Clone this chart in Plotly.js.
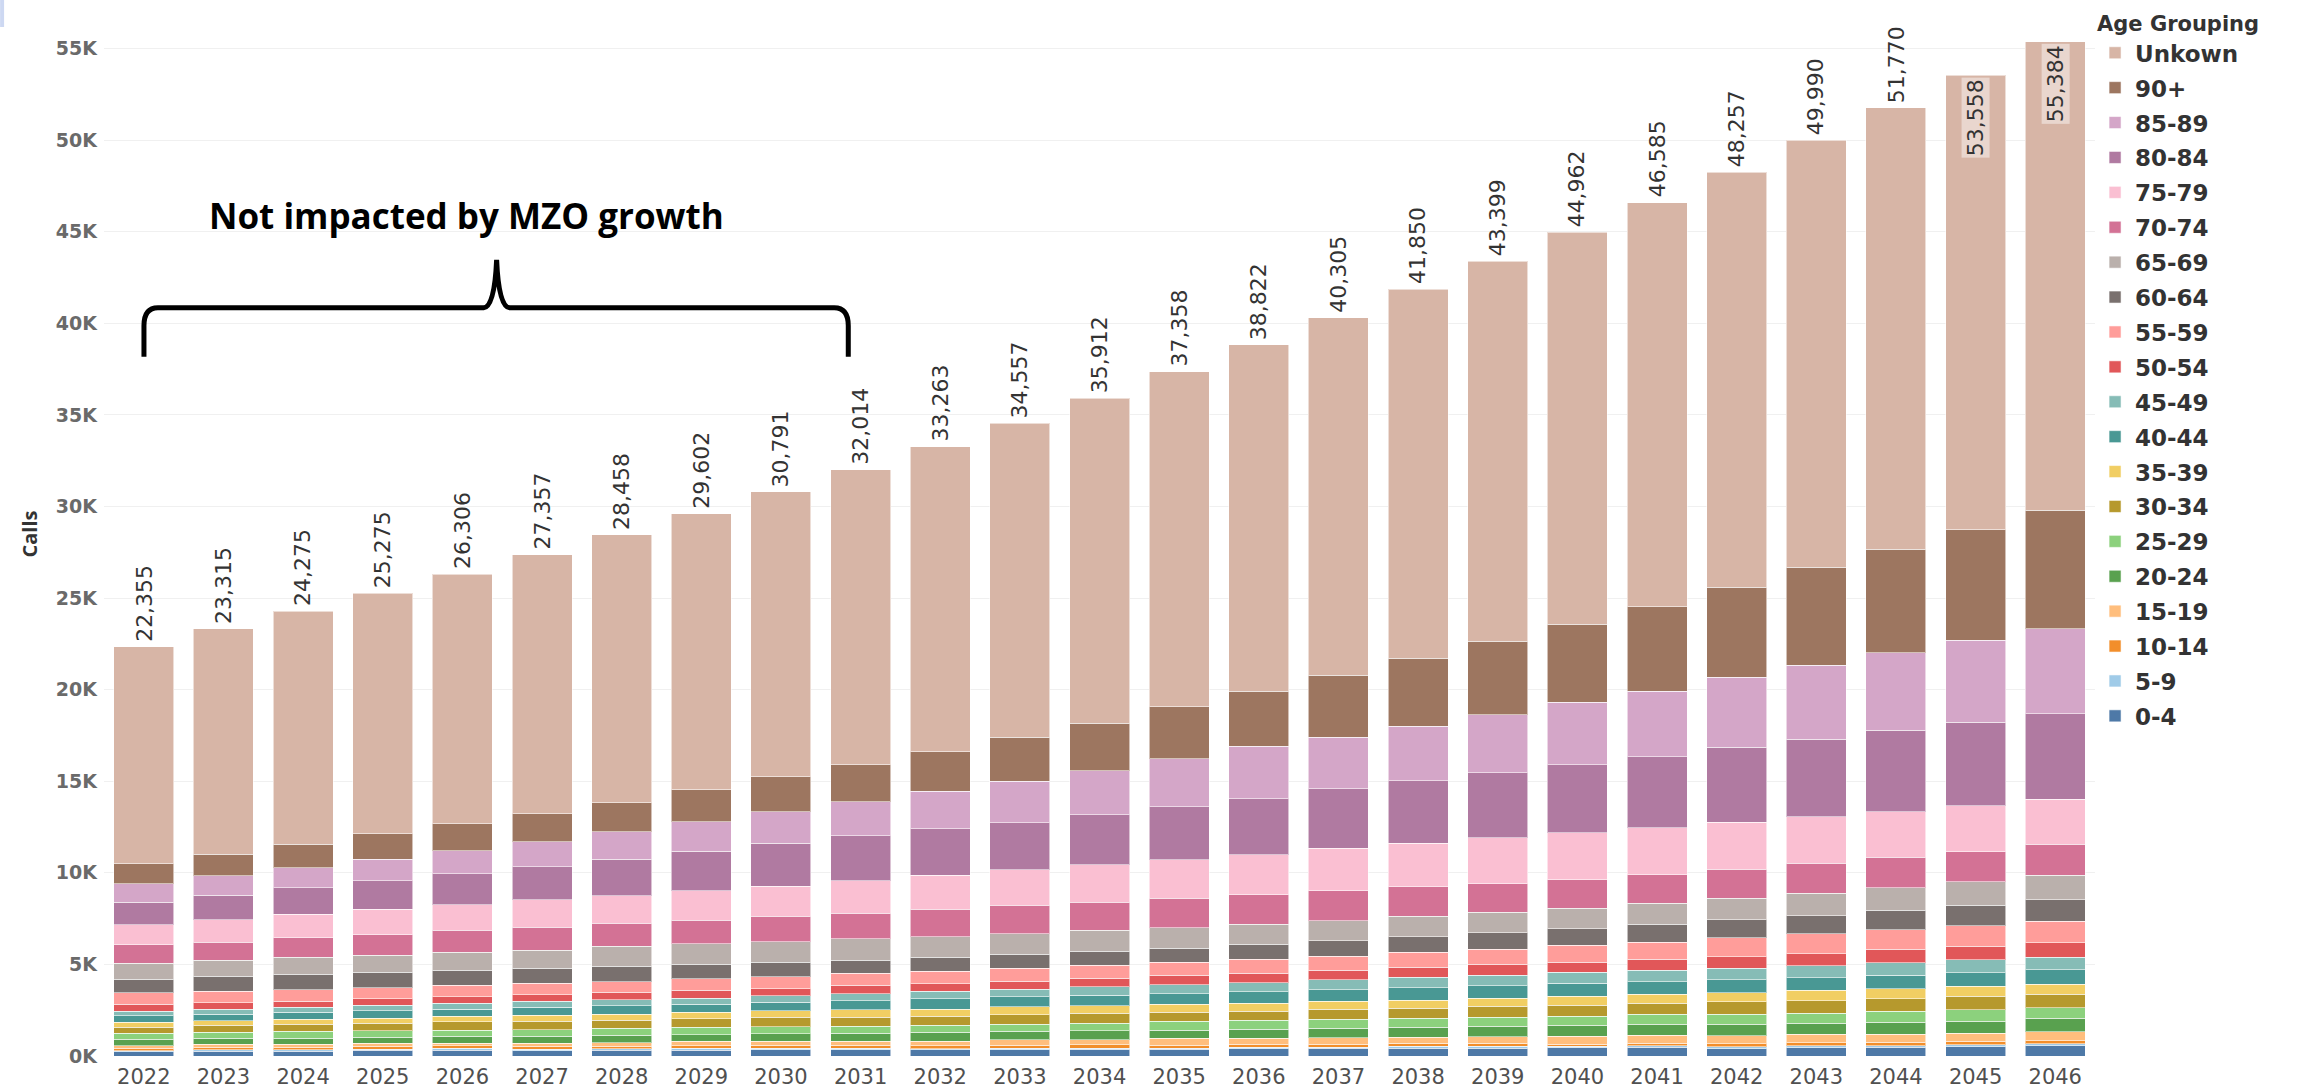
<!DOCTYPE html>
<html>
<head>
<meta charset="utf-8">
<script src="https://cdn.plot.ly/plotly-3.0.1.min.js"></script>
<style>
  html, body { margin: 0; padding: 0; background: #ffffff; }
  #chart { width: 2301px; height: 1092px; }
</style>
</head>
<body>
<div id="chart"></div>
<script>
// ---------------- DATA ----------------
const years = ['2022','2023','2024','2025','2026','2027','2028','2029','2030','2031','2032','2033','2034','2035','2036','2037','2038','2039','2040','2041','2042','2043','2044','2045','2046'];

const totals = [22355,23315,24275,25275,26306,27357,28458,29602,30791,32014,33263,34557,35912,37358,38822,40305,41850,43399,44962,46585,48257,49990,51770,53558,55384];

const ageGroups = ['0-4','5-9','10-14','15-19','20-24','25-29','30-34','35-39','40-44','45-49','50-54','55-59','60-64','65-69','70-74','75-79','80-84','85-89','90+','Unkown'];

const age0_4   = [236,255,255,309,327,291,309,327,345,345,345,345,364,364,400,418,436,436,455,491,407,447,468,508,569];
const age5_9   = [55,91,91,73,91,91,91,91,91,91,55,91,73,73,73,73,91,91,73,73,102,102,102,102,102];
const age10_14 = [127,127,127,145,145,145,127,145,164,145,164,145,164,145,164,164,182,182,127,145,163,183,183,183,163];
const age15_19 = [145,164,182,164,145,182,200,236,218,236,255,309,291,382,327,345,309,345,418,418,447,447,427,447,488];
const age20_24 = [364,327,327,345,364,364,400,364,400,436,473,473,491,436,491,509,545,564,600,618,610,610,651,671,732];
const age25_29 = [309,327,364,345,345,364,382,400,382,382,382,382,418,491,491,491,509,509,509,527,549,549,610,610,590];
const age30_34 = [345,400,382,418,455,455,455,473,509,491,509,509,545,509,509,545,527,582,600,618,691,691,691,732,732];
const age35_39 = [255,236,273,273,291,327,327,364,364,400,382,436,400,436,436,436,455,455,491,491,488,549,549,549,549];
const age40_44 = [364,364,400,400,400,436,455,436,455,491,564,545,582,564,618,636,673,673,691,673,712,691,732,732,793];
const age45_49 = [255,273,273,309,327,327,327,327,364,382,418,400,455,491,491,545,564,564,600,618,630,651,671,732,671];
const age50_54 = [364,345,327,345,345,364,400,418,382,455,400,436,455,509,509,527,545,600,564,618,630,671,752,732,793];
const age55_59 = [636,636,618,600,618,618,582,636,655,655,673,709,727,709,764,745,836,836,927,927,1017,1077,1057,1118,1179];
const age60_64 = [727,800,836,836,818,818,855,800,782,727,782,782,764,782,836,855,836,891,891,964,996,996,1057,1118,1179];
const age65_69 = [891,891,945,945,982,1000,1073,1109,1127,1164,1109,1109,1127,1109,1073,1109,1109,1109,1109,1164,1179,1220,1240,1281,1321];
const age70_74 = [1000,982,1054,1109,1200,1254,1254,1273,1382,1400,1509,1564,1545,1618,1618,1618,1618,1564,1564,1545,1586,1647,1667,1647,1687];
const age75_79 = [1091,1218,1273,1400,1418,1491,1509,1618,1655,1764,1836,1927,2054,2109,2200,2327,2382,2509,2582,2564,2562,2521,2480,2501,2460];
const age80_84 = [1236,1345,1454,1545,1691,1818,2000,2164,2345,2455,2564,2582,2709,2891,3054,3236,3400,3564,3709,3891,4086,4249,4452,4554,4676];
const age85_89 = [1000,1073,1109,1182,1254,1345,1491,1600,1709,1873,2036,2254,2418,2618,2854,2836,3000,3145,3400,3582,3822,4046,4229,4473,4635];
const age90p   = [1109,1164,1273,1382,1454,1545,1600,1745,1927,2018,2164,2400,2582,2836,3018,3382,3709,4018,4273,4600,4920,5326,5652,6038,6485];
const ageUnknown = [11847,12298,12713,13149,13635,14122,14623,15076,15538,16106,16646,17159,17750,18287,18897,19507,20125,20765,21382,22060,22662,23317,24101,24832,25580];

const yTickVals  = [0,5000,10000,15000,20000,25000,30000,35000,40000,45000,50000,55000];
const yTickTexts = ['0K','5K','10K','15K','20K','25K','30K','35K','40K','45K','50K','55K'];

const annotationText = 'Not impacted by MZO growth';

// ---------------- STYLE ----------------
const seriesValues = [age0_4,age5_9,age10_14,age15_19,age20_24,age25_29,age30_34,age35_39,age40_44,age45_49,
                      age50_54,age55_59,age60_64,age65_69,age70_74,age75_79,age80_84,age85_89,age90p,ageUnknown];
const colors = ['#4e79a7','#a0cbe8','#f28e2b','#ffbe7d','#59a14f','#8cd17d','#b6992d','#f1ce63','#499894','#86bcb6',
                '#e15759','#ff9d9a','#79706e','#bab0ac','#d37295','#fabfd2','#b07aa1','#d4a6c8','#9d7660','#d7b5a6'];

const W = 2301, H = 1092;
const M = {l: 104, r: 204, t: 12, b: 35.5};
const plotW = W - M.l - M.r, plotH = H - M.t - M.b;
const px2paperX = x => (x - M.l) / plotW;
const px2paperY = y => (H - M.b - y) / plotH;

const traces = ageGroups.map((g, i) => ({
  type: 'bar',
  name: g,
  x: years,
  y: seriesValues[i],
  legendgroup: 'g' + i,
  legendrank: 1000 - i,
  marker: { color: colors[i], line: { color: 'rgba(255,255,255,0.55)', width: 1 } },
  hovertemplate: g + ': %{y}<extra></extra>'
}));

// total labels (x given as category index)
const fmt = v => v.toLocaleString('en-US');
const annotations = years.map((yr, i) => {
  const inside = totals[i] > 52500;
  return {
    x: i, y: totals[i], xref: 'x', yref: 'y',
    text: fmt(totals[i]),
    textangle: -90,
    showarrow: false,
    xanchor: 'center',
    yanchor: inside ? 'top' : 'bottom',
    yshift: inside ? -2 : 3,
    bgcolor: inside ? 'rgba(255,255,255,0.45)' : 'rgba(0,0,0,0)',
    borderpad: 1,
    font: { family: 'DejaVu Sans, sans-serif', size: 22, color: '#333333' }
  };
});

annotations.push({
  xref: 'paper', yref: 'paper',
  x: px2paperX(467), y: px2paperY(216),
  xanchor: 'center', yanchor: 'middle',
  text: annotationText, showarrow: false,
  font: { family: 'Open Sans, sans-serif', size: 35, color: '#000000', weight: 700 }
});

// curly brace (pixel-defined, converted to paper)
const P = (x, y) => px2paperX(x).toFixed(5) + ',' + px2paperY(y).toFixed(5);
const bracePath =
  'M' + P(144, 357) + ' L' + P(144, 326) +
  ' Q' + P(144, 308) + ' ' + P(158, 308) +
  ' L' + P(484, 308) +
  ' Q' + P(495, 307) + ' ' + P(497, 260) +
  ' Q' + P(499, 307) + ' ' + P(510, 308) +
  ' L' + P(835, 308) +
  ' Q' + P(849, 308) + ' ' + P(849, 326) +
  ' L' + P(849, 357);

const layout = {
  width: W, height: H,
  margin: M,
  paper_bgcolor: '#ffffff',
  plot_bgcolor: '#ffffff',
  barmode: 'stack',
  bargap: 0.247,
  showlegend: true,
  font: { family: 'DejaVu Sans, sans-serif', color: '#555555' },
  xaxis: {
    type: 'category',
    range: [-0.5, years.length - 0.5],
    autorange: false,
    tickfont: { family: 'DejaVu Sans, sans-serif', size: 21, color: '#505050' },
    showgrid: false,
    zeroline: false,
    showline: false,
    ticks: '',
    ticklabelstandoff: 6,
    fixedrange: true
  },
  yaxis: {
    range: [0, 57000],
    autorange: false,
    tickvals: yTickVals,
    ticktext: yTickTexts,
    tickfont: { family: 'DejaVu Sans, sans-serif', size: 19, color: '#6a6a6a', weight: 700 },
    showgrid: true,
    gridcolor: '#f0f0f0',
    gridwidth: 1,
    zeroline: false,
    showline: false,
    ticks: '',
    ticklabelstandoff: 6,
    title: { text: 'Calls', standoff: 12, font: { family: 'Open Sans, sans-serif', size: 20, color: '#333333', weight: 700 } },
    automargin: false,
    fixedrange: true
  },
  legend: {
    xref: 'container', yref: 'container',
    x: 0.9105, y: 1 - 4 / 1092, xanchor: 'left', yanchor: 'top',
    traceorder: 'grouped',
    tracegroupgap: 2,
    maxheight: 1,
    bgcolor: 'rgba(0,0,0,0)',
    borderwidth: 0,
    font: { family: 'DejaVu Sans, sans-serif', size: 23, color: '#333333', weight: 700 },
    title: { text: 'Age Grouping', font: { family: 'DejaVu Sans, sans-serif', size: 21, color: '#333333', weight: 700 } },
    itemclick: false, itemdoubleclick: false
  },
  annotations: annotations,
  shapes: [{
    type: 'path', xref: 'paper', yref: 'paper',
    path: bracePath,
    line: { color: '#000000', width: 5 },
    fillcolor: 'rgba(0,0,0,0)'
  }, {
    type: 'rect', xref: 'paper', yref: 'paper',
    x0: px2paperX(0), x1: px2paperX(4), y0: px2paperY(0), y1: px2paperY(27),
    line: { width: 0 }, fillcolor: '#cdd8f2', layer: 'above'
  }]
};

Plotly.newPlot('chart', traces, layout, { displayModeBar: false, staticPlot: true });
</script>
</body>
</html>
